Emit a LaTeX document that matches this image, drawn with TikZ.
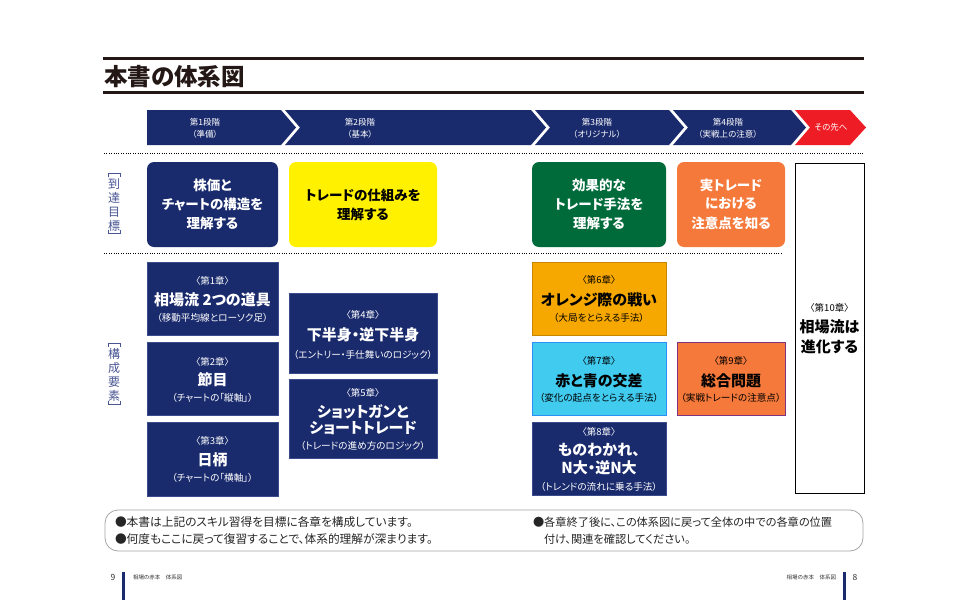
\documentclass[tikz,border=0pt]{standalone}
\usepackage{fontspec}
\setmainfont{Noto Sans CJK JP}[RawFeature=+palt]
\newfontfamily\heavyfont{Noto Sans CJK JP Black}[RawFeature=+palt]
\definecolor{navy}{HTML}{1A2B6D}
\definecolor{navyedge}{HTML}{3A4C8C}
\definecolor{ruleblack}{HTML}{231815}
\definecolor{goalyellow}{HTML}{FFF100}
\definecolor{goalgreen}{HTML}{006B3A}
\definecolor{goalorange}{HTML}{F5793A}
\definecolor{chorange}{HTML}{F7A800}
\definecolor{chcyan}{HTML}{40CBEF}
\definecolor{chnine}{HTML}{F5793A}
\definecolor{nextred}{HTML}{EE1C24}
\definecolor{labelblue}{HTML}{4A5694}
\newcommand\myfs[1]{\fontsize{#1}{#1}\selectfont}
\newcommand\myvfs{\fontsize{12}{13.8}\selectfont}
\tikzset{
  rulebar/.style={line width=3pt, draw=ruleblack},
  dotline/.style={draw=black, line width=1pt, dash pattern=on 1pt off 1.4pt},
  goalbox/.style={rounded corners=7pt, inner sep=0pt, outer sep=0pt},
  chapbox/.style={rectangle, inner sep=0pt, outer sep=0pt, line width=0.8pt},
  bantext/.style={font=\myfs{8.5}, text=white},
  goaltext/.style={font=\bfseries\myfs{13.5}},
  chnum/.style={font=\myfs{9.5}},
  chtitle/.style={font=\heavyfont\myfs{15}},
  chsub/.style={font=\myfs{9.6}},
  notetext/.style={font=\myfs{11.7}, anchor=west, text=black!85},
  notetextr/.style={font=\myfs{11.2}, anchor=west, text=black!85},
  vlabel/.style={font=\myvfs, align=center, text=labelblue},
  bracket/.style={draw=labelblue, line width=0.8pt},
}
\begin{document}
\begin{tikzpicture}[x=1pt,y=-1pt, every node/.style={inner sep=0pt, outer sep=0pt}]
\useasboundingbox (0,0) rectangle (970,600);
\fill[white] (0,0) rectangle (970,600);

% title rules
\draw[rulebar] (103,58.5) -- (864,58.5);
\node[anchor=west, font=\heavyfont\myfs{23.5}, text=ruleblack] (title) at (104,77) {本書の体系図};
\draw[rulebar] (103,92.5) -- (864,92.5);

% banner
\fill[navy] (147,110) -- (281,110) -- (296,127.5) -- (281,145) -- (147,145) -- cycle;
\fill[navy] (285,110) -- (531,110) -- (546,127.5) -- (531,145) -- (285,145) -- (300,127.5) -- cycle;
\fill[navy] (535,110) -- (669,110) -- (684,127.5) -- (669,145) -- (535,145) -- (550,127.5) -- cycle;
\fill[navy] (673,110) -- (791,110) -- (806,127.5) -- (791,145) -- (673,145) -- (688,127.5) -- cycle;
\fill[nextred] (795,110) -- (850,110) -- (866,127.5) -- (850,145) -- (795,145) -- (810,127.5) -- cycle;
\node[bantext] (b1a) at (205,122) {第1段階};
\node[bantext] (b1b) at (205,134) {（準備）};
\node[bantext] (b2a) at (360,122) {第2段階};
\node[bantext] (b2b) at (360,134) {（基本）};
\node[bantext] (b3a) at (597,122) {第3段階};
\node[bantext] (b3b) at (597,134) {（オリジナル）};
\node[bantext] (b4a) at (728,122) {第4段階};
\node[bantext] (b4b) at (728,134) {（実戦上の注意）};
\node[bantext] (b5) at (831,127.5) {その先へ};

% dotted separators
\draw[dotline] (104,153) -- (864,153);
\draw[dotline] (104,253) -- (781,253);

% vertical labels
\node[vlabel] (lab1) at (114,205) {到\\達\\目\\標};
\draw[bracket] (108.5,177) -- (108.5,173.5) -- (120,173.5) -- (120,177);
\draw[bracket] (108.5,230) -- (108.5,233.5) -- (120,233.5) -- (120,230);
\node[vlabel] (lab2) at (114,375) {構\\成\\要\\素};
\draw[bracket] (108.5,347) -- (108.5,343.5) -- (120,343.5) -- (120,347);
\draw[bracket] (108.5,401) -- (108.5,404.5) -- (120,404.5) -- (120,401);

% goal boxes
\node[goalbox, fill=navy, minimum width=131pt, minimum height=85pt] (g1) at (212.5,204.5) {};
\node[goaltext, text=white] (g1a) at (212.5,185) {株価と};
\node[goaltext, text=white] (g1b) at (212.5,204) {チャートの構造を};
\node[goaltext, text=white] (g1c) at (212.5,223) {理解する};

\node[goalbox, fill=goalyellow, minimum width=148pt, minimum height=85pt] (g2) at (363,204.5) {};
\node[goaltext, text=black] (g2a) at (363,195) {トレードの仕組みを};
\node[goaltext, text=black] (g2b) at (363,214) {理解する};

\node[goalbox, fill=goalgreen, minimum width=134pt, minimum height=85pt] (g3) at (599,204.5) {};
\node[goaltext, text=white] (g3a) at (599,185) {効果的な};
\node[goaltext, text=white] (g3b) at (599,204) {トレード手法を};
\node[goaltext, text=white] (g3c) at (599,223) {理解する};

\node[goalbox, fill=goalorange, minimum width=108pt, minimum height=85pt] (g4) at (731,204.5) {};
\node[goaltext, text=white] (g4a) at (731,185) {実トレード};
\node[goaltext, text=white] (g4b) at (731,204) {における};
\node[goaltext, text=white] (g4c) at (731,223) {注意点を知る};

% chapter 10 (white box)
\node[rectangle, draw=black, line width=1pt, minimum width=69pt, minimum height=330pt] (c10) at (829.5,328) {};
\node[chnum, text=black] (c10n) at (829.5,308) {〈第10章〉};
\node[chtitle, text=black] (c10a) at (829.5,327) {相場流は};
\node[chtitle, text=black] (c10b) at (829.5,347) {進化する};

% column 1
\node[chapbox, fill=navy, draw=navyedge, minimum width=131pt, minimum height=73pt] (c1) at (212.5,298.5) {};
\node[chnum, text=white] (c1n) at (212.5,281) {〈第1章〉};
\node[chtitle, text=white] (c1t) at (212.5,300) {相場流 2つの道具};
\node[chsub, text=white] (c1s) at (212.5,318) {（移動平均線とローソク足）};

\node[chapbox, fill=navy, draw=navyedge, minimum width=131pt, minimum height=73pt] (c2) at (212.5,378.5) {};
\node[chnum, text=white] (c2n) at (212.5,361.5) {〈第2章〉};
\node[chtitle, text=white] (c2t) at (212.5,380) {節目};
\node[chsub, text=white] (c2s) at (212.5,398) {（チャートの「縦軸」）};

\node[chapbox, fill=navy, draw=navyedge, minimum width=131pt, minimum height=74pt] (c3) at (212.5,459) {};
\node[chnum, text=white] (c3n) at (212.5,441) {〈第3章〉};
\node[chtitle, text=white] (c3t) at (212.5,460) {日柄};
\node[chsub, text=white] (c3s) at (212.5,478) {（チャートの「横軸」）};

% column 2
\node[chapbox, fill=navy, draw=navyedge, minimum width=148pt, minimum height=80pt] (c4) at (363,333) {};
\node[chnum, text=white] (c4n) at (363,315) {〈第4章〉};
\node[chtitle, text=white] (c4t) at (363,335) {下半身・逆下半身};
\node[chsub, text=white] (c4s) at (363,355) {（エントリー・手仕舞いのロジック）};

\node[chapbox, fill=navy, draw=navyedge, minimum width=148pt, minimum height=79pt] (c5) at (363,418.5) {};
\node[chnum, text=white] (c5n) at (363,393) {〈第5章〉};
\node[chtitle, text=white] (c5t) at (363,411.5) {ショットガンと};
\node[chtitle, text=white] (c5u) at (363,428.5) {ショートトレード};
\node[chsub, text=white] (c5s) at (363,446) {（トレードの進め方のロジック）};

% column 3
\node[chapbox, fill=chorange, draw=chorange!80!black, minimum width=134pt, minimum height=73pt] (c6) at (599,298.5) {};
\node[chnum, text=black] (c6n) at (599,280) {〈第6章〉};
\node[chtitle, text=black] (c6t) at (599,300) {オレンジ際の戦い};
\node[chsub, text=black] (c6s) at (599,318) {（大局をとらえる手法）};

\node[chapbox, fill=chcyan, draw=chcyan!70!blue, minimum width=134pt, minimum height=73pt] (c7) at (599,378.5) {};
\node[chnum, text=black] (c7n) at (599,361) {〈第7章〉};
\node[chtitle, text=black] (c7t) at (599,381) {赤と青の交差};
\node[chsub, text=black] (c7s) at (599,398) {（変化の起点をとらえる手法）};

\node[chapbox, fill=navy, draw=navyedge, minimum width=134pt, minimum height=73pt] (c8) at (599,458.5) {};
\node[chnum, text=white] (c8n) at (599,432) {〈第8章〉};
\node[chtitle, text=white] (c8t) at (599,450) {ものわかれ、};
\node[chtitle, text=white] (c8u) at (599,468) {N大・逆N大};
\node[chsub, text=white] (c8s) at (599,487) {（トレンドの流れに乗る手法）};

% column 4
\node[chapbox, fill=chnine, draw=violet!60!gray, minimum width=108pt, minimum height=73pt] (c9) at (731,378.5) {};
\node[chnum, text=black] (c9n) at (731,361) {〈第9章〉};
\node[chtitle, text=black] (c9t) at (731,381) {総合問題};
\node[chsub, text=black] (c9s) at (731,398) {（実戦トレードの注意点）};

% notes
\draw[draw=gray!70, line width=0.8pt, rounded corners=13pt] (105,510) rectangle (863,551);
\node[notetext] (n1) at (115,522) {●本書は上記のスキル習得を目標に各章を構成しています。};
\node[notetext] (n2) at (115,539) {●何度もここに戻って復習することで、体系的理解が深まります。};
\node[notetextr] (n3) at (533,522) {●各章終了後に、この体系図に戻って全体の中での各章の位置};
\node[notetextr] (n4) at (544,539) {付け、関連を確認してください。};

% footer
\node[font=\myfs{8.5}, text=black!80] (p9) at (113,577) {9};
\fill[navy] (122,572) rectangle (125,600);
\node[font=\myfs{5.5}, anchor=west, text=black!80] (f1) at (133,577) {相場の赤本　体系図};
\node[font=\myfs{5.5}, anchor=east, text=black!80] (f2) at (836,577) {相場の赤本　体系図};
\fill[navy] (843,572) rectangle (846,600);
\node[font=\myfs{8.5}, text=black!80] (p8) at (855,577) {8};
\end{tikzpicture}
\end{document}
